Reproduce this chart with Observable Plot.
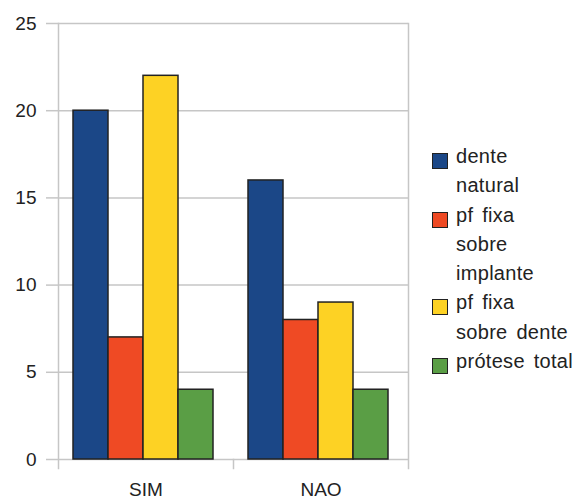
<!DOCTYPE html>
<html><head><meta charset="utf-8">
<script src="https://cdn.jsdelivr.net/npm/d3@7"></script>
<script src="https://cdn.jsdelivr.net/npm/@observablehq/plot@0.6"></script>
<style>
body{margin:0;background:#fff;}
#wrap{position:relative;width:574px;height:500px;font-family:"Liberation Sans",Arial,sans-serif;}
#legend{position:absolute;left:432px;top:142px;font-size:20px;line-height:29.3px;word-spacing:3px;letter-spacing:0.3px;color:#222;}
.item{position:relative;padding-left:24px;white-space:pre-line;}
.sw{position:absolute;left:0;top:11px;width:14px;height:14px;border:1.5px solid #222;}
</style></head><body><div id="wrap"></div>
<script>
const groups = ["SIM","NAO"];
const series = ["dente natural","pf fixa sobre implante","pf fixa sobre dente","prótese total"];
const legendLabels = ["dente\nnatural","pf fixa\nsobre\nimplante","pf fixa\nsobre dente","prótese total"];
const simValues = [20,7,22,4];
const naoValues = [16,8,9,4];
const colors = ["#1b4787","#ef4a24","#fdd224","#5a9e45"];
const yTicks = [0,5,10,15,20,25];

const data = [
  ...series.map((s,i)=>({group:groups[0],series:s,value:simValues[i]})),
  ...series.map((s,i)=>({group:groups[1],series:s,value:naoValues[i]}))
];
const grid = "#c6c6c6";
const chart = Plot.plot({
  width:574, height:500, marginLeft:57, marginRight:166, marginTop:23, marginBottom:41,
  style:{fontFamily:"Liberation Sans, Arial, sans-serif", fontSize:"19px", color:"#222", background:"#fff"},
  fx:{domain:groups, padding:0, label:null},
  x:{domain:series, paddingInner:0, paddingOuter:0.45, align:0.43, axis:null},
  y:{domain:[0,25], axis:null},
  color:{domain:series, range:colors},
  marks:[
    Plot.gridY(yTicks,{stroke:grid, strokeOpacity:1, strokeWidth:1.5}),
    Plot.axisY(yTicks,{tickSize:12, tickPadding:10, stroke:grid, strokeWidth:1.5, fill:"#222", label:null}),
    Plot.frame({anchor:"left", facetAnchor:"left", insetBottom:-9, stroke:grid, strokeWidth:1.5}),
    Plot.frame({anchor:"right", facetAnchor:"right", insetBottom:-9, stroke:grid, strokeWidth:1.5}),
    Plot.frame({anchor:"left", facetAnchor:"right", insetTop:436, insetBottom:-9, stroke:grid, strokeWidth:1.5}),
    Plot.barY(data,{fx:"group", x:"series", y:"value", fill:"series", stroke:"#222", strokeWidth:1.5}),
    Plot.axisFx({anchor:"bottom", tickSize:0, tickPadding:23, label:null, fill:"#222"})
  ]
});
const wrap = document.getElementById("wrap");
wrap.appendChild(chart);
const legend = document.createElement("div");
legend.id = "legend";
series.forEach((s,i)=>{
  const item = document.createElement("div");
  item.className = "item";
  const sw = document.createElement("span");
  sw.className = "sw";
  sw.style.background = colors[i];
  item.appendChild(sw);
  item.appendChild(document.createTextNode(legendLabels[i]));
  legend.appendChild(item);
});
wrap.appendChild(legend);
</script></body></html>
